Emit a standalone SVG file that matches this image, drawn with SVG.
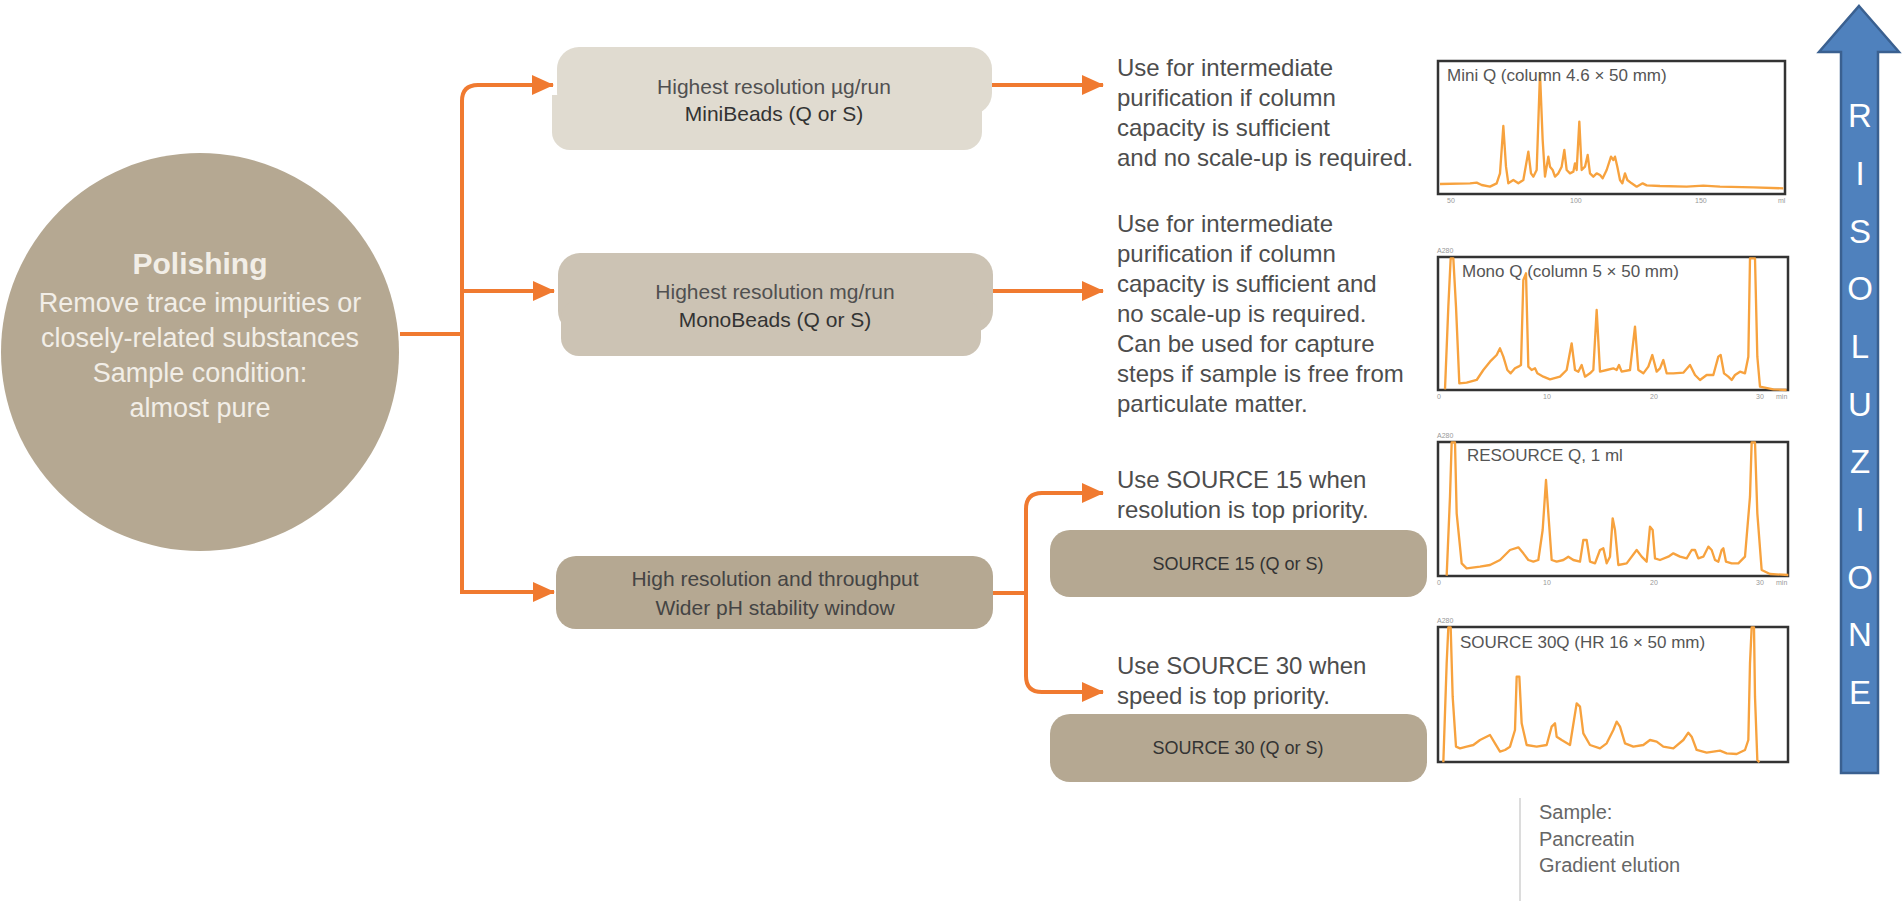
<svg xmlns="http://www.w3.org/2000/svg" width="1903" height="901" viewBox="0 0 1903 901">
<style>
.conn{fill:none;stroke:#f07a30;stroke-width:4}
.desc{font-family:"Liberation Sans",Arial,sans-serif;font-size:24px;fill:#4d4d4d}
.bt1{font-family:"Liberation Sans",Arial,sans-serif;font-size:21px;fill:#505050;text-anchor:middle}
.bt2{font-family:"Liberation Sans",Arial,sans-serif;font-size:21px;fill:#333;text-anchor:middle}
.src{font-family:"Liberation Sans",Arial,sans-serif;font-size:18px;fill:#333;text-anchor:middle}
.ct{font-family:"Liberation Sans",Arial,sans-serif;font-size:17px;fill:#555}
.tick{font-family:"Liberation Sans",Arial,sans-serif;font-size:7px;fill:#999}
.frame{fill:#fff;stroke:#333;stroke-width:2.5}
.curve{fill:none;stroke:#f7a23e;stroke-width:7;stroke-linejoin:round}
.circ{font-family:"Liberation Sans",Arial,sans-serif;font-size:27px;fill:#f2eee7;text-anchor:middle}
.risl{font-family:"Liberation Sans",Arial,sans-serif;font-size:33px;fill:#fff;text-anchor:middle}
</style>
<defs>
<marker id="ah" markerUnits="userSpaceOnUse" markerWidth="22" markerHeight="20" refX="21" refY="10" orient="auto">
<path d="M0,0 L22,10 L0,20 z" fill="#f07a30"/>
</marker>
</defs>
<rect width="1903" height="901" fill="#fff"/>

<g id="connectors">
<path class="conn" d="M400,334 H462"/>
<path class="conn" d="M462,334 V101 Q462,85 478,85 H553" marker-end="url(#ah)"/>
<path class="conn" d="M462,291 H554" marker-end="url(#ah)"/>
<path class="conn" d="M462,334 V592 H554" marker-end="url(#ah)"/>
<path class="conn" d="M992,85 H1103" marker-end="url(#ah)"/>
<path class="conn" d="M993,291 H1103" marker-end="url(#ah)"/>
<path class="conn" d="M993,593 H1026"/>
<path class="conn" d="M1103,493 H1042 Q1026,493 1026,509 V676 Q1026,692 1042,692 H1103" marker-end="url(#ah)"/>
<path class="conn" d="M1060,493 H1103" marker-end="url(#ah)"/>
</g>

<g id="polishing">
<circle cx="200" cy="352" r="199" fill="#b5a892"/>
<text x="200" y="274" class="circ" style="font-weight:bold;font-size:30px">Polishing</text>
<text x="200" y="312" class="circ">Remove trace impurities or</text>
<text x="200" y="347" class="circ">closely-related substances</text>
<text x="200" y="382" class="circ">Sample condition:</text>
<text x="200" y="417" class="circ">almost pure</text>
</g>

<g id="minibeads">
<rect x="557" y="47" width="435" height="68" rx="22" fill="#e0dbd0"/>
<rect x="552" y="101" width="430" height="49" rx="18" fill="#e0dbd0"/>
<rect x="552" y="95" width="430" height="30" fill="#e0dbd0"/>
<text x="774" y="94" class="bt1">Highest resolution µg/run</text>
<text x="774" y="121" class="bt2">MiniBeads (Q or S)</text>
</g>

<g id="monobeads">
<rect x="558" y="253" width="435" height="80" rx="22" fill="#ccc3b4"/>
<rect x="561" y="300" width="420" height="56" rx="18" fill="#ccc3b4"/>
<text x="775" y="299" class="bt1">Highest resolution mg/run</text>
<text x="775" y="327" class="bt2">MonoBeads (Q or S)</text>
</g>

<g id="source">
<rect x="556" y="556" width="437" height="73" rx="20" fill="#b5a892"/>
<text x="775" y="586" class="bt1" style="fill:#444">High resolution and throughput</text>
<text x="775" y="615" class="bt1" style="fill:#444">Wider pH stability window</text>
</g>

<g id="source15">
<rect x="1050" y="530" width="377" height="67" rx="20" fill="#b5a892"/>
<text x="1238" y="570" class="src">SOURCE 15 (Q or S)</text>
</g>

<g id="source30">
<rect x="1050" y="714" width="377" height="68" rx="20" fill="#b5a892"/>
<text x="1238" y="754" class="src">SOURCE 30 (Q or S)</text>
</g>

<g id="desc1">
<text class="desc" x="1117" y="76">Use for intermediate</text>
<text class="desc" x="1117" y="106">purification if column</text>
<text class="desc" x="1117" y="136">capacity is sufficient</text>
<text class="desc" x="1117" y="166">and no scale-up is required.</text>
</g>

<g id="desc2">
<text class="desc" x="1117" y="232">Use for intermediate</text>
<text class="desc" x="1117" y="262">purification if column</text>
<text class="desc" x="1117" y="292">capacity is sufficient and</text>
<text class="desc" x="1117" y="322">no scale-up is required.</text>
<text class="desc" x="1117" y="352">Can be used for capture</text>
<text class="desc" x="1117" y="382">steps if sample is free from</text>
<text class="desc" x="1117" y="412">particulate matter.</text>
</g>

<g id="desc3">
<text class="desc" x="1117" y="488">Use SOURCE 15 when</text>
<text class="desc" x="1117" y="518">resolution is top priority.</text>
</g>

<g id="desc4">
<text class="desc" x="1117" y="674">Use SOURCE 30 when</text>
<text class="desc" x="1117" y="704">speed is top priority.</text>
</g>

<g id="chart1">
<rect class="frame" x="1438" y="61" width="347" height="133"/>
<g transform="translate(1420,40) scale(0.33333)">
<polyline class="curve" points="60,432 150,430 170,428 185,435 210,440 230,430 240,400 250,258 258,380 265,430 280,420 295,430 310,420 325,335 333,400 340,410 350,390 360,100 368,300 375,410 385,350 390,380 398,390 405,410 415,400 425,380 433,330 440,390 450,400 460,395 465,370 470,390 478,245 485,390 495,380 503,345 510,400 520,410 530,400 540,405 548,415 560,390 573,350 580,360 585,350 592,380 600,420 607,430 615,400 622,420 635,430 650,440 668,430 680,436 720,438 800,440 850,437 900,440 1000,442 1090,445"/>
</g>
<text class="ct" x="1447" y="81">Mini Q (column 4.6 × 50 mm)</text>
<text class="tick" x="1447" y="203">50</text>
<text class="tick" x="1570" y="203">100</text>
<text class="tick" x="1695" y="203">150</text>
<text class="tick" x="1778" y="203">ml</text>
</g>

<g id="chart2">
<rect class="frame" x="1438" y="257" width="350" height="133"/>
<g transform="translate(1420,40) scale(0.33333)">
<polyline class="curve" points="75,1048 85,800 92,655 100,655 108,800 118,1030 140,1028 170,1020 190,990 210,965 230,945 240,925 250,950 262,990 272,1000 285,985 295,980 303,975 310,720 318,700 325,980 335,990 345,985 352,1000 370,1010 390,1018 420,1010 440,990 455,910 465,990 475,995 485,975 495,1010 510,1000 520,990 530,810 540,995 560,990 580,985 590,990 597,975 605,995 630,990 645,860 655,990 670,1000 685,980 697,945 710,995 720,985 730,960 740,1000 760,1000 790,998 810,975 825,1005 840,1020 860,1005 880,1005 895,950 902,945 912,1000 925,1010 935,1020 945,1005 960,995 975,1000 985,950 990,655 1005,655 1012,950 1020,1040 1060,1048 1100,1050"/>
</g>
<text class="ct" x="1462" y="277">Mono Q (column 5 × 50 mm)</text>
<text class="tick" x="1437" y="253">A280</text>
<text class="tick" x="1437" y="399">0</text>
<text class="tick" x="1543" y="399">10</text>
<text class="tick" x="1650" y="399">20</text>
<text class="tick" x="1756" y="399">30</text>
<text class="tick" x="1776" y="399">min</text>
</g>

<g id="chart3">
<rect class="frame" x="1438" y="442" width="350" height="134"/>
<g transform="translate(1420,430) scale(0.33333)">
<polyline class="curve" points="80,437 90,200 95,37 105,37 110,250 125,400 140,415 180,410 210,405 240,390 270,360 295,352 310,370 325,390 340,395 355,390 368,300 378,150 385,250 395,390 410,395 430,390 445,380 460,390 480,395 490,330 500,330 510,395 525,400 540,360 550,355 560,400 570,380 578,265 585,300 595,405 620,400 650,360 665,380 680,395 690,290 698,300 705,385 720,390 745,380 760,370 780,380 800,385 815,360 825,360 835,385 850,380 865,350 875,360 885,390 895,395 905,360 910,355 918,395 935,400 955,400 975,380 990,200 995,37 1005,37 1012,250 1025,420 1050,432 1105,435"/>
</g>
<text class="ct" x="1467" y="461">RESOURCE Q, 1 ml</text>
<text class="tick" x="1437" y="438">A280</text>
<text class="tick" x="1437" y="585">0</text>
<text class="tick" x="1543" y="585">10</text>
<text class="tick" x="1650" y="585">20</text>
<text class="tick" x="1756" y="585">30</text>
<text class="tick" x="1776" y="585">min</text>
</g>

<g id="chart4">
<rect class="frame" x="1438" y="627" width="350" height="135"/>
<g transform="translate(1420,430) scale(0.33333)">
<polyline class="curve" points="70,997 80,700 85,592 92,592 98,800 108,950 120,955 140,950 160,945 180,930 210,915 225,940 240,965 255,960 270,950 285,900 290,740 298,740 305,880 320,945 350,950 380,945 395,890 405,880 410,920 425,930 450,945 462,870 470,820 480,830 490,910 510,945 540,955 560,940 580,900 590,875 600,890 615,940 640,950 670,945 690,930 710,935 730,950 760,955 790,930 805,908 815,920 830,960 860,968 900,962 920,970 950,972 975,960 985,930 990,700 995,592 1002,592 1005,800 1012,990 1018,997"/>
</g>
<text class="ct" x="1460" y="648">SOURCE 30Q (HR 16 × 50 mm)</text>
<text class="tick" x="1437" y="623">A280</text>
</g>

<g id="sample">
<line x1="1520" y1="798" x2="1520" y2="901" stroke="#d0d0d0" stroke-width="1.5"/>
<text x="1539" y="819" style="font-family:'Liberation Sans',Arial,sans-serif;font-size:20px;fill:#666">Sample:</text>
<text x="1539" y="846" style="font-family:'Liberation Sans',Arial,sans-serif;font-size:20px;fill:#666">Pancreatin</text>
<text x="1539" y="872" style="font-family:'Liberation Sans',Arial,sans-serif;font-size:20px;fill:#666">Gradient elution</text>
</g>

<g id="risoluzione">
<path d="M1859,6 L1899,52 L1878,52 L1878,773 L1841,773 L1841,52 L1819,52 Z" fill="#4f81bd" stroke="#3a6090" stroke-width="2.5" stroke-linejoin="miter"/>
<text class="risl" x="1860" y="127">R</text>
<text class="risl" x="1860" y="185">I</text>
<text class="risl" x="1860" y="243">S</text>
<text class="risl" x="1860" y="300">O</text>
<text class="risl" x="1860" y="358">L</text>
<text class="risl" x="1860" y="416">U</text>
<text class="risl" x="1860" y="473">Z</text>
<text class="risl" x="1860" y="531">I</text>
<text class="risl" x="1860" y="589">O</text>
<text class="risl" x="1860" y="646">N</text>
<text class="risl" x="1860" y="704">E</text>
</g>
</svg>
